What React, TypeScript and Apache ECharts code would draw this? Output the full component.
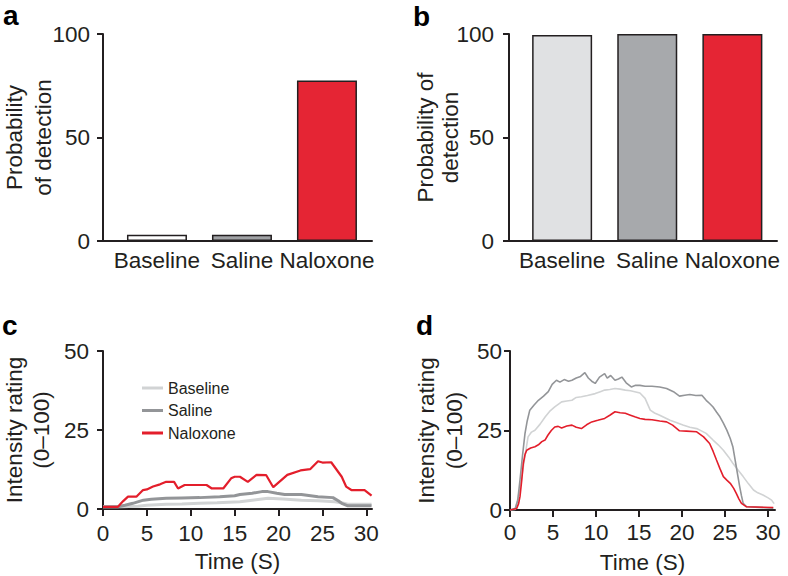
import React, { useEffect, useRef } from "react";
import * as echarts from "echarts";

const FONT = "'Liberation Sans', Arial, Helvetica, sans-serif";
const INK = "#231f20";

// ----- Panel a / b (bar charts) -----
const categories = ["Baseline", "Saline", "Naloxone"];
const categoryPos = [1, 2, 3];
const detectionA = [3, 3, 77.5];
const detectionB = [99.5, 100, 100];
const barColorsA = ["#ffffff", "#a0a2a5", "#e52534"];
const barColorsB = ["#e0e1e3", "#a7a9ac", "#e52534"];

// ----- Panel c / d (time courses) -----
const timeTicks = [0, 5, 10, 15, 20, 25, 30];
const lineNames = ["Baseline", "Saline", "Naloxone"];
const lineColors = ["#d1d3d4", "#939598", "#e31e2b"];

const cBaseline: number[][] = [
  [0, 0.7], [2, 0.7], [4, 0.9], [5, 1.2], [7.2, 1.5], [9, 1.6], [11, 1.8], [13, 2.0],
  [15.6, 2.3], [17, 2.8], [18.8, 3.4], [20.5, 3.2], [22.6, 2.8], [24.5, 2.6], [26.4, 2.3],
  [27.3, 1.9], [27.9, 1.5], [30.6, 1.5],
];
const cSaline: number[][] = [
  [0, 0.7], [1.7, 0.7], [2.5, 1.2], [3.4, 1.8], [4.6, 2.8], [5.5, 3.1], [7.2, 3.4], [9, 3.5],
  [11, 3.6], [13.3, 3.9], [15, 4.2], [15.6, 4.6], [17, 5.0], [18.1, 5.5], [18.8, 5.5],
  [19.8, 5.0], [20.7, 4.6], [22.6, 4.6], [24.5, 3.9], [26.2, 3.6], [26.8, 2.6], [27.2, 1.8],
  [27.9, 1.0], [30.6, 1.0],
];
const cNaloxone: number[][] = [
  [0, 0.7], [1.7, 0.7], [2.3, 2.5], [2.85, 3.9], [3.8, 3.9], [4.56, 6.0], [5.0, 6.2],
  [5.7, 7.1], [6.5, 7.8], [7.2, 8.6], [8.1, 8.6], [8.55, 6.5], [9.3, 7.6], [11.8, 7.6],
  [12.4, 6.5], [13.7, 6.5], [14.6, 9.7], [15.0, 10.2], [15.6, 10.2], [16.5, 8.6],
  [17.5, 10.8], [18.6, 10.7], [19.4, 6.9], [21.0, 10.8], [22.5, 12.2], [23.6, 12.6],
  [24.5, 15.1], [25.0, 14.7], [26.0, 14.8], [27.2, 10.2], [27.7, 7.1], [28.3, 6.0],
  [29.8, 6.0], [30.6, 4.2],
];

const dBaseline: number[][] = [
  [0, 0], [0.6, 0.2], [0.97, 4.2], [1.3, 9], [1.55, 13.6], [1.8, 18], [2.1, 23], [2.5, 24.5],
  [2.9, 25.1], [3.5, 27], [4.1, 29.3], [4.6, 31], [5.2, 32.4], [5.6, 33.2], [6.0, 34.0],
  [6.6, 34.3], [7.2, 34.5], [7.7, 35.4], [8.3, 35.6], [9.0, 36.0], [9.9, 36.6], [10.5, 37.2],
  [11.0, 37.7], [11.6, 37.9], [12.2, 38.2], [12.8, 38.0], [13.4, 37.7], [14.0, 37.5],
  [14.5, 37.2], [15.1, 36.8], [15.7, 35.1], [16.3, 31.4], [16.8, 30.5], [17.4, 29.8],
  [18.0, 29.0], [18.6, 28.2], [19.4, 27.4], [20.1, 26.7], [20.9, 26.0], [21.7, 25.6],
  [22.3, 24.8], [22.8, 24.1], [23.6, 22.0], [24.2, 20.5], [24.8, 18.8], [25.4, 16.7],
  [25.9, 14.7], [26.5, 12.6], [27.1, 10.5], [27.7, 8.3], [28.3, 6.3], [28.8, 5.4],
  [29.4, 4.7], [30.0, 3.8], [30.4, 3.1], [30.7, 2.0],
];
const dSaline: number[][] = [
  [0, 0], [0.6, 0.5], [0.9, 3], [1.16, 9.4], [1.45, 17], [1.74, 24], [2.0, 28], [2.3, 31.4],
  [2.8, 33], [3.3, 34.5], [3.9, 35.8], [4.45, 37.2], [4.9, 39.5], [5.4, 40.8], [5.8, 40.2],
  [6.3, 41.0], [6.8, 40.5], [7.2, 40.8], [7.7, 41.5], [8.2, 42.0], [8.7, 43.2], [9.1, 41.5],
  [9.5, 40.5], [9.9, 39.8], [10.4, 41.8], [11.0, 42.9], [11.3, 41.5], [11.7, 42.3],
  [12.2, 40.8], [12.6, 41.2], [13.0, 41.8], [13.5, 40.0], [14.1, 38.7], [14.6, 39.2],
  [15.1, 39.2], [15.7, 38.9], [16.5, 38.9], [17.4, 38.7], [18.2, 38.2], [19.0, 37.2],
  [19.7, 35.8], [20.3, 36.1], [20.9, 36.3], [21.6, 36.0], [22.3, 36.1], [22.8, 34.5],
  [23.2, 33.5], [23.6, 32.4], [24.0, 30.8], [24.4, 29.3], [24.8, 27.3], [25.2, 25.1],
  [25.6, 22.5], [25.9, 19.9], [26.1, 16.8], [26.3, 13.6], [26.5, 10.4], [26.7, 7.3],
  [26.9, 4.5], [27.1, 2.1], [27.5, 1.0], [30.6, 0.6],
];
const dNaloxone: number[][] = [
  [0, 0], [0.78, 0.5], [1.0, 2], [1.16, 4.2], [1.35, 9], [1.55, 14.7], [1.75, 17.5],
  [1.94, 18.8], [2.4, 19.5], [2.9, 19.9], [3.3, 20.5], [3.7, 21.5], [4.07, 22.0], [4.4, 23.5],
  [4.8, 25.0], [5.2, 26.1], [5.6, 26.3], [6.0, 25.8], [6.6, 26.4], [7.2, 26.7], [7.7, 26.0],
  [8.3, 25.6], [8.9, 26.8], [9.5, 27.7], [10.2, 28.2], [11.0, 28.8], [11.6, 29.8],
  [12.2, 30.9], [12.8, 30.6], [13.4, 30.4], [14.0, 29.8], [14.5, 29.3], [15.1, 28.8],
  [15.7, 28.5], [16.5, 28.4], [17.4, 28.0], [18.2, 27.7], [18.9, 26.7], [19.7, 24.9],
  [20.5, 24.8], [21.7, 24.6], [22.5, 23.0], [23.2, 20.9], [23.6, 18.5], [24.0, 15.7],
  [24.4, 13.0], [24.8, 10.5], [25.2, 9.4], [25.6, 8.4], [26.0, 6.8], [26.3, 5.2],
  [26.6, 3.5], [26.9, 2.1], [27.5, 1.0], [30.6, 0.8],
];

const cSeries = [cBaseline, cSaline, cNaloxone];
const dSeries = [dBaseline, dSaline, dNaloxone];

const axisLine = { show: true, onZero: false, lineStyle: { color: INK, width: 2 } };
const tickFont = { color: INK, fontSize: 22.5, fontFamily: FONT };

function barXAxis(gridIndex: number, min: number, max: number) {
  return {
    type: "value",
    gridIndex,
    min,
    max,
    splitLine: { show: false },
    axisLine,
    axisTick: { show: false },
    axisLabel: {
      ...tickFont,
      margin: 8,
      customValues: categoryPos,
      formatter: (v: number) => categories[Math.round(v) - 1] ?? "",
    },
  };
}

function timeXAxis(gridIndex: number, max: number, margin: number, nameGap: number) {
  return {
    type: "value",
    gridIndex,
    min: 0,
    max,
    name: "Time (S)",
    nameLocation: "middle",
    nameGap,
    nameMoveOverlap: false,
    nameTextStyle: { ...tickFont },
    splitLine: { show: false },
    axisLine,
    axisTick: { show: true, length: 7, lineStyle: { color: INK, width: 2 }, customValues: timeTicks },
    axisLabel: { ...tickFont, margin, customValues: timeTicks },
  };
}

function yAxis(
  gridIndex: number,
  max: number,
  interval: number,
  name: string,
  nameGap: number,
  lineHeight: number,
  margin: number
) {
  return {
    type: "value",
    gridIndex,
    min: 0,
    max,
    interval,
    name,
    nameLocation: "middle",
    nameRotate: 90,
    nameGap,
    nameMoveOverlap: false,
    nameTextStyle: { ...tickFont, lineHeight },
    splitLine: { show: false },
    axisLine,
    axisTick: { show: true, length: 6, lineStyle: { color: INK, width: 2 } },
    axisLabel: { ...tickFont, margin },
  };
}

function barSeries(axisIndex: number, values: number[], colors: string[]) {
  return {
    type: "bar",
    xAxisIndex: axisIndex,
    yAxisIndex: axisIndex,
    barWidth: 60,
    silent: true,
    data: values.map((v, i) => ({
      value: [categoryPos[i], v],
      itemStyle: { color: colors[i], borderColor: INK, borderWidth: 1.5 },
    })),
  };
}

function lineSeries(axisIndex: number, sets: number[][][], width: number[]) {
  return sets.map((d, i) => ({
    type: "line",
    name: lineNames[i],
    xAxisIndex: axisIndex,
    yAxisIndex: axisIndex,
    symbol: "none",
    silent: true,
    data: d,
    itemStyle: { color: lineColors[i] },
    lineStyle: { color: lineColors[i], width: width[i] },
  }));
}

function panelLetter(text: string, x: number, y: number) {
  return {
    type: "text",
    x,
    y,
    style: {
      text,
      fill: "#000",
      font: `bold 28px ${FONT}`,
      verticalAlign: "middle",
    },
  };
}

const gridBase = { outerBoundsMode: "none", containLabel: false };

export default function App() {
  const ref = useRef<HTMLDivElement>(null);
  useEffect(() => {
    if (!ref.current) return;
    const chart = echarts.init(ref.current, undefined, { renderer: "svg" });
    chart.setOption({
      animation: false,
      backgroundColor: "#ffffff",
      textStyle: { fontFamily: FONT },
      grid: [
        { ...gridBase, left: 103, top: 34, width: 269, height: 207 },
        { ...gridBase, left: 509, top: 34, width: 268, height: 207 },
        { ...gridBase, left: 103, top: 351, width: 269, height: 158 },
        { ...gridBase, left: 510, top: 351, width: 265, height: 159 },
      ],
      xAxis: [
        barXAxis(0, 0.365, 3.53),
        barXAxis(1, 0.376, 3.524),
        timeXAxis(2, 30.65, 13, 41),
        timeXAxis(3, 30.8, 11, 41),
      ],
      yAxis: [
        yAxis(0, 100, 50, "Probability\nof detection", 45, 29, 13),
        yAxis(1, 100, 50, "Probability of\ndetection", 46, 25, 15),
        yAxis(2, 50, 25, "Intensity rating\n(0–100)", 48, 27, 14),
        yAxis(3, 50, 25, "Intensity rating\n(0–100)", 42, 28, 8),
      ],
      legend: {
        data: lineNames,
        orient: "vertical",
        left: 142,
        top: 380,
        padding: 0,
        icon: "rect",
        itemWidth: 21,
        itemHeight: 3,
        itemGap: 6.5,
        selectedMode: false,
        textStyle: { color: INK, fontSize: 16, fontFamily: FONT, lineHeight: 16 },
      },
      graphic: [
        panelLetter("a", 3, 15),
        panelLetter("b", 413, 16),
        panelLetter("c", 2, 325),
        panelLetter("d", 416, 325),
      ],
      series: [
        barSeries(0, detectionA, barColorsA),
        barSeries(1, detectionB, barColorsB),
        ...lineSeries(2, cSeries, [3, 3, 2.2]),
        ...lineSeries(3, dSeries, [1.6, 1.6, 1.6]),
      ],
    });
    return () => chart.dispose();
  }, []);
  return (
    <div
      ref={ref}
      style={{ position: "fixed", left: 0, top: 0, width: 788, height: 576, background: "#fff" }}
    />
  );
}
